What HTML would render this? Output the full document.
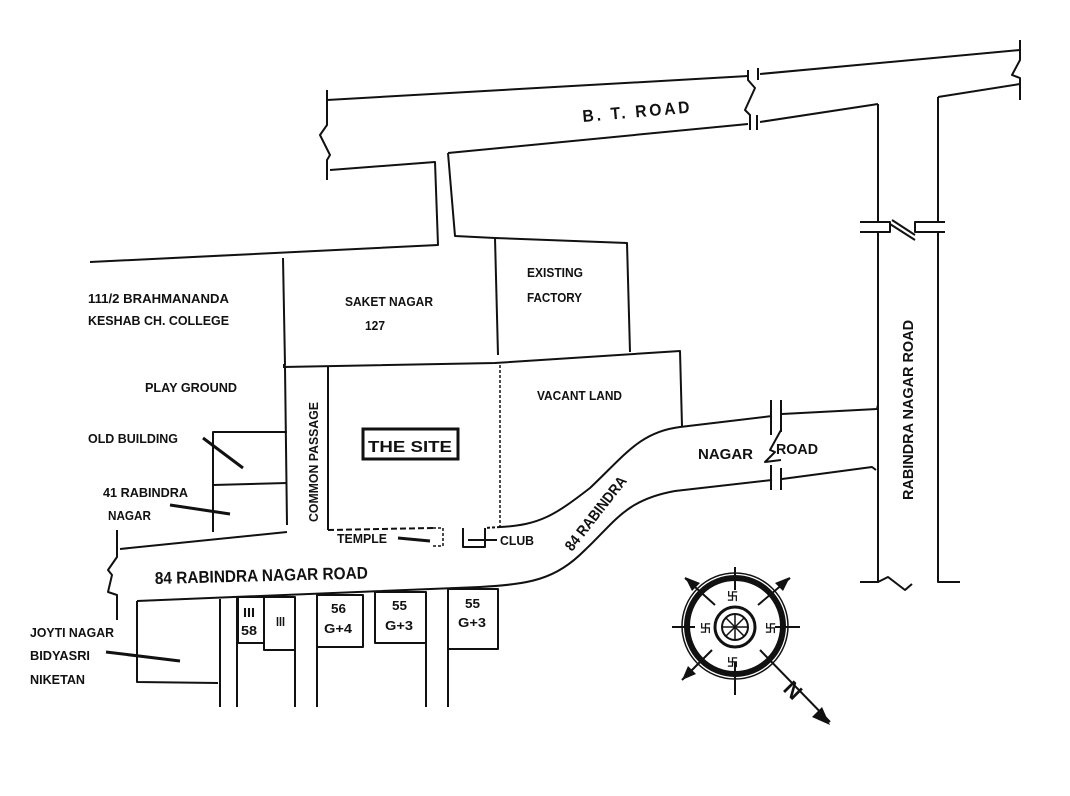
<!DOCTYPE html>
<html><head><meta charset="utf-8"><style>
html,body{margin:0;padding:0;background:#fff;}
svg{display:block}
text{font-family:"Liberation Sans Narrow","Liberation Sans",sans-serif;font-weight:bold;fill:#111;}
</style></head><body>
<svg width="1070" height="796" viewBox="0 0 1070 796" xmlns="http://www.w3.org/2000/svg">
<g fill="none" stroke="#111" stroke-width="2" stroke-linejoin="round">
<polyline points="327,100 748,76"/>
<polyline points="760,74 1020,50"/>
<polyline points="327,90 327,125 320,135 330,155 327,160 327,180"/>
<polyline points="330,170 435,162 438,245 90,262"/>
<polyline points="448,153 748,124"/>
<polyline points="760,122 878,104"/>
<polyline points="938,97 1020,84"/>
<polyline points="1020,40 1020,60 1012,75 1020,78 1020,100"/>
<polyline points="748,70 748,80 755,88 745,110 750,115 750,130"/>
<polyline points="758,68 758,80"/><polyline points="757,115 757,130"/>
<polyline points="878,104 878,222"/><polyline points="878,232 878,582 860,582"/>
<polyline points="938,97 938,222"/><polyline points="938,232 938,582 960,582"/>
<polyline points="860,222 890,222 890,232 860,232"/>
<polyline points="945,222 915,222 915,232 945,232"/>
<polyline points="890,224 915,240"/><polyline points="892,220 915,235"/>
<polyline points="878,582 888,577 905,590 912,584"/>
<polyline points="448,153 455,236 495,238 627,243 630,352"/>
<polyline points="495,238 498,355"/>
<polyline points="283,258 285,365 283,365"/>
<polyline points="283,367 495,363 680,351 682,426"/>
<polyline points="285,367 287,525"/>
<polyline points="328,367 328,530"/>
<polyline points="287,432 213,432 213,532"/>
<line x1="213" y1="485" x2="287" y2="483"/>
<polyline points="120,549 287,532"/>
<polyline points="117,530 117,557 108,570 112,575 108,592 117,595 117,620"/>
<polyline points="328,530 433,528" stroke-dasharray="6,3"/>
<line x1="500" y1="365" x2="500" y2="527" stroke-dasharray="3,2" stroke-width="1.5"/>
<polyline points="433,528 443,528 443,546 433,546" stroke-dasharray="3,2" stroke-width="1.5"/>
<polyline points="463,528 463,547 485,547 485,528"/>
<line x1="500" y1="527" x2="485" y2="528" stroke-dasharray="3,2"/>
<path d="M500,527 C540,525 555,515 590,488 C625,455 640,432 680,427 L772,416"/>
<path d="M782,414 L877,409 L878,405"/>
<path d="M137,601 L480,587 C530,584 555,580 585,550 C615,522 625,500 675,491 L772,480"/>
<path d="M782,479 L872,467 L876,470"/>
<polyline points="771,400 771,435"/><polyline points="781,400 781,432"/>
<polyline points="771,465 771,490"/><polyline points="781,468 781,490"/>
<polyline points="781,430 770,450 775,452 765,462 781,460"/>
<polyline points="137,601 137,682 218,683"/>
<polyline points="220,599 220,707"/>
<polyline points="237,597 237,707"/>
<rect x="238" y="597" width="26" height="46"/>
<rect x="264" y="597" width="31" height="53"/>
<polyline points="295,597 295,707"/>
<polyline points="317,707 317,595 363,595 363,647 317,647"/>
<polyline points="375,592 426,592 426,707"/>
<polyline points="375,592 375,643 426,643"/>
<polyline points="448,707 448,589 498,589 498,649 448,649"/>
<line x1="203" y1="438" x2="243" y2="468" stroke-width="3"/>
<line x1="170" y1="505" x2="230" y2="514" stroke-width="3"/>
<line x1="106" y1="652" x2="180" y2="661" stroke-width="3"/>
<line x1="398" y1="538" x2="430" y2="541" stroke-width="3"/>
<line x1="468" y1="540" x2="497" y2="540"/>
</g>
<rect x="363" y="429" width="95" height="30" fill="none" stroke="#111" stroke-width="3"/>
<g stroke="#111" fill="none">
<circle cx="735" cy="626" r="48" stroke-width="6"/>
<circle cx="735" cy="626" r="53" stroke-width="1.5"/>
<circle cx="735" cy="627" r="20" stroke-width="3"/>
<circle cx="735" cy="627" r="13" stroke-width="2"/>
<g stroke-width="1.5"><line x1="722" y1="627" x2="748" y2="627"/><line x1="735" y1="614" x2="735" y2="640"/><line x1="726" y1="618" x2="744" y2="636"/><line x1="744" y1="618" x2="726" y2="636"/></g>
<g stroke-width="2"><line x1="735" y1="567" x2="735" y2="590"/><line x1="735" y1="662" x2="735" y2="695"/><line x1="672" y1="627" x2="695" y2="627"/><line x1="775" y1="627" x2="800" y2="627"/>
<line x1="685" y1="578" x2="715" y2="605"/><line x1="790" y1="578" x2="758" y2="605"/><line x1="682" y1="680" x2="712" y2="650"/><line x1="760" y1="650" x2="830" y2="722"/></g>
</g>
<g fill="#111"><polygon points="830,725 812,717 822,707"/><polygon points="685,577 700,583 692,591"/><polygon points="790,577 783,591 775,583"/><polygon points="682,680 688,666 696,674"/>
<text x="727" y="600" font-size="11">卐</text><text x="727" y="666" font-size="11">卐</text><text x="700" y="632" font-size="11">卐</text><text x="765" y="632" font-size="11">卐</text>
</g>
<text transform="translate(782,690) rotate(45)" font-size="22">N</text>
<text transform="translate(583,122) rotate(-5)" font-size="17" textLength="110" lengthAdjust="spacingAndGlyphs" letter-spacing="3">B. T. ROAD</text>
<text transform="translate(913,500) rotate(-90)" font-size="15" textLength="180" lengthAdjust="spacingAndGlyphs">RABINDRA NAGAR ROAD</text>
<g font-size="13">
<text x="88" y="303" textLength="141" lengthAdjust="spacingAndGlyphs">111/2 BRAHMANANDA</text>
<text x="88" y="325" textLength="141" lengthAdjust="spacingAndGlyphs">KESHAB CH. COLLEGE</text>
<text x="145" y="392" textLength="92" lengthAdjust="spacingAndGlyphs">PLAY GROUND</text>
<text x="88" y="443" textLength="90" lengthAdjust="spacingAndGlyphs">OLD BUILDING</text>
<text x="103" y="497" textLength="85" lengthAdjust="spacingAndGlyphs">41 RABINDRA</text>
<text x="108" y="520" textLength="43" lengthAdjust="spacingAndGlyphs">NAGAR</text>
<text x="30" y="637" textLength="84" lengthAdjust="spacingAndGlyphs">JOYTI NAGAR</text>
<text x="30" y="660" textLength="60" lengthAdjust="spacingAndGlyphs">BIDYASRI</text>
<text x="30" y="684" textLength="55" lengthAdjust="spacingAndGlyphs">NIKETAN</text>
<text x="345" y="306" textLength="88" lengthAdjust="spacingAndGlyphs">SAKET NAGAR</text>
<text x="365" y="330" textLength="20" lengthAdjust="spacingAndGlyphs">127</text>
<text x="527" y="277" textLength="56" lengthAdjust="spacingAndGlyphs">EXISTING</text>
<text x="527" y="302" textLength="55" lengthAdjust="spacingAndGlyphs">FACTORY</text>
<text x="537" y="400" textLength="85" lengthAdjust="spacingAndGlyphs">VACANT LAND</text>
<text x="337" y="543" textLength="50" lengthAdjust="spacingAndGlyphs">TEMPLE</text>
<text x="500" y="545" textLength="34" lengthAdjust="spacingAndGlyphs">CLUB</text>
<text x="243" y="617" textLength="12" lengthAdjust="spacingAndGlyphs">III</text>
<text x="241" y="635" textLength="16" lengthAdjust="spacingAndGlyphs">58</text>
<text x="276" y="626" textLength="9" lengthAdjust="spacingAndGlyphs">III</text>
<text x="331" y="613" textLength="15" lengthAdjust="spacingAndGlyphs">56</text>
<text x="324" y="633" textLength="28" lengthAdjust="spacingAndGlyphs">G+4</text>
<text x="392" y="610" textLength="15" lengthAdjust="spacingAndGlyphs">55</text>
<text x="385" y="630" textLength="28" lengthAdjust="spacingAndGlyphs">G+3</text>
<text x="465" y="608" textLength="15" lengthAdjust="spacingAndGlyphs">55</text>
<text x="458" y="627" textLength="28" lengthAdjust="spacingAndGlyphs">G+3</text>
<text transform="translate(318,522) rotate(-90)" font-size="13" textLength="120" lengthAdjust="spacingAndGlyphs">COMMON PASSAGE</text>
<text transform="translate(572,552) rotate(-52)" font-size="15" textLength="90" lengthAdjust="spacingAndGlyphs">84 RABINDRA</text>
<text x="698" y="459" font-size="15" textLength="55" lengthAdjust="spacingAndGlyphs">NAGAR</text>
<text x="776" y="454" font-size="15" textLength="42" lengthAdjust="spacingAndGlyphs">ROAD</text>
</g>
<text x="368" y="452" font-size="16" textLength="84" lengthAdjust="spacingAndGlyphs">THE SITE</text>
<text transform="translate(155,584) rotate(-1.5)" font-size="17" textLength="213" lengthAdjust="spacingAndGlyphs">84 RABINDRA NAGAR ROAD</text>
</svg>
</body></html>
